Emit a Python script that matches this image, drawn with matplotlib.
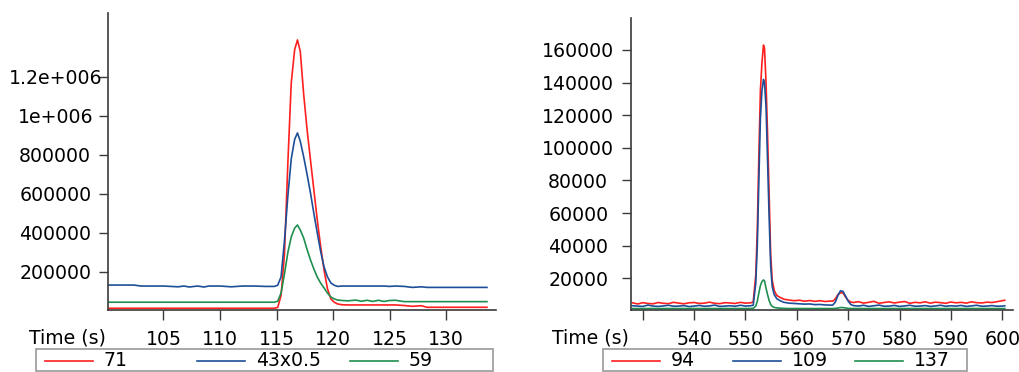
import matplotlib
matplotlib.use("Agg")
import matplotlib.pyplot as plt
from matplotlib.lines import Line2D
from matplotlib.patches import Rectangle

plt.rcParams['font.family'] = ['DejaVu Sans']

# ---------------- data ----------------
# Left panel (time in s)
t_left = [100.1, 101.0, 102.4, 103.0, 104.0, 105.0, 106.3, 106.8, 107.3, 108.0,
          108.6, 109.0, 110.0, 111.0, 112.0, 113.0, 114.0, 114.8, 115.1, 115.4,
          115.7, 116.0, 116.3, 116.6, 116.85, 117.1, 117.4, 117.7, 118.0, 118.3,
          118.6, 118.9, 119.2, 119.5, 119.8, 120.1, 120.4, 120.8, 121.3, 122.0,
          122.5, 123.0, 123.5, 124.0, 124.5, 125.0, 125.5, 126.3, 127.0, 127.8,
          128.3, 129.0, 130.0, 131.0, 132.0, 133.6]
ion_71 = [14000, 14000, 14000, 14000, 14000, 14000, 14000, 14000, 14000, 14000,
          14000, 14000, 14000, 14000, 14000, 14000, 14000, 14000, 18000, 80000,
          290000, 760000, 1170000, 1340000, 1390000, 1330000, 1110000, 930000, 774000, 620000,
          467000, 330000, 210000, 115000, 62000, 45000, 36000, 32000, 31000, 31000,
          31000, 31000, 31000, 31000, 31000, 31000, 31000, 28000, 24000, 27000,
          19000, 19000, 19000, 19000, 19000, 19000]
ion_43 = [133000, 133000, 133000, 128000, 128000, 128000, 124000, 128000, 123000, 128000,
          123000, 128000, 128000, 124000, 128000, 128000, 126000, 126000, 132000, 175000,
          360000, 590000, 780000, 880000, 913000, 870000, 790000, 700000, 605000, 500000,
          400000, 305000, 226000, 175000, 144000, 132000, 126000, 128000, 128000, 128000,
          128000, 128000, 128000, 128000, 128000, 126000, 128000, 126000, 121000, 124000,
          121000, 121000, 121000, 121000, 121000, 121000]
ion_59 = [45000, 45000, 45000, 45000, 45000, 45000, 45000, 45000, 45000, 45000,
          45000, 45000, 45000, 45000, 45000, 45000, 45000, 45000, 50000, 92000,
          190000, 300000, 380000, 425000, 441000, 415000, 374000, 315000, 262000, 215000,
          174000, 143000, 118000, 92000, 72000, 62000, 56000, 54000, 52000, 56000,
          50000, 55000, 49000, 55000, 49000, 54000, 55000, 48000, 48000, 48000,
          48000, 48000, 48000, 48000, 48000, 48000]
left_labels = ["71", "43x0.5", "59"]

# Right panel (time in s)
t_right = [528, 529, 530, 531, 532, 533, 534, 535, 536, 537, 538, 539, 540, 541, 542,
           543, 544, 545, 546, 547, 548, 549, 550, 551, 551.5, 552.0, 552.3, 552.6,
           552.9, 553.2, 553.5, 553.7, 554.0, 554.3, 554.6, 554.9, 555.2, 555.6,
           556.1, 556.8, 557.5, 558.5, 559.5, 560.5, 561.5, 562.5, 563.5, 564.5,
           565.5, 566.5, 567.0, 567.5, 568.0, 568.5, 569.0, 569.5, 570.0, 570.5,
           571, 572, 573, 574, 575, 576, 577, 578, 579, 580, 581, 582, 583, 584,
           585, 586, 587, 588, 589, 590, 591, 592, 593, 594, 595, 596, 597, 598,
           599, 600, 600.5]
ion_94 = [5000, 4300, 5100, 4600, 4400, 5200, 4700, 4500, 5300, 4800, 4400, 5000, 5200,
          4600, 4800, 5400, 4700, 4500, 5100, 4900, 4600, 5300, 4800, 5000, 5500, 22000,
          50000, 95000, 135000, 152000, 163000, 161000, 140000, 108000, 72000, 35000,
          19000, 12500, 9500, 8200, 7200, 6700, 6300, 6600, 6000, 6400, 5900, 6300,
          5800, 6100, 6000, 7500, 10000, 11200, 11000, 8500, 6500, 5500, 5200, 5700,
          4800, 5300, 5900, 4700, 5200, 5600, 4900, 5400, 5800, 4700, 5300, 5000, 5600,
          4800, 5400, 5100, 4700, 5500, 5000, 5300, 4800, 5600, 5100, 4900, 5400, 5200,
          5700, 6300, 6600]
ion_109 = [3200, 3000, 2800, 3600, 3000, 2800, 3100, 3500, 2900, 3000, 3300, 2700, 3000,
           3400, 2900, 3100, 3600, 2800, 3000, 3200, 2900, 3500, 3000, 3200, 3500, 17000,
           40000, 80000, 118000, 135000, 142000, 140000, 125000, 92000, 58000, 28000,
           15000, 10000, 7500, 6200, 5300, 4800, 4600, 4400, 4200, 4300, 3900, 4000,
           3700, 3600, 3600, 5500, 9500, 12400, 12000, 9000, 6000, 4000, 3300, 3000,
           3500, 2800, 3200, 3600, 2900, 3000, 3400, 2800, 3100, 3500, 2900, 3000, 3300,
           2800, 3100, 3500, 2900, 3200, 3000, 3400, 2800, 3100, 3500, 2900, 3000, 3300,
           2900, 3000, 3200]
ion_137 = [1500, 1500, 1500, 1500, 1500, 1500, 1500, 1500, 1500, 1500, 1500, 1500, 1500,
           1500, 1500, 1500, 1500, 1500, 1500, 1500, 1500, 1500, 1500, 1500, 1600, 3000,
           6000, 11000, 15500, 18000, 19000, 18500, 14000, 10000, 6500, 4000,
           2800, 2200, 1900, 1700, 1600, 1500, 1500, 1500, 1500, 1500, 1500, 1500,
           1500, 1500, 1500, 1600, 1800, 2100, 2100, 1800, 1600, 1500, 1500, 1500,
           1500, 1500, 1500, 1500, 1500, 1500, 1500, 1500, 1500, 1500, 1500, 1500, 1500,
           1500, 1500, 1500, 1500, 1500, 1500, 1500, 1500, 1500, 1500, 1500, 1500, 1500,
           1500, 1500, 1500]
right_labels = ["94", "109", "137"]

left_xticks = [105, 110, 115, 120, 125, 130]
left_xticklabels = ["105", "110", "115", "120", "125", "130"]
left_yticks = [200000, 400000, 600000, 800000, 1000000, 1200000]
left_yticklabels = ["200000", "400000", "600000", "800000", "1e+006", "1.2e+006"]
right_xticks = [530, 540, 550, 560, 570, 580, 590, 600]
right_xticklabels = ["", "540", "550", "560", "570", "580", "590", "600"]
right_yticks = [20000, 40000, 60000, 80000, 100000, 120000, 140000, 160000]
right_yticklabels = ["20000", "40000", "60000", "80000", "100000", "120000", "140000", "160000"]

# ---------------- style ----------------
W, H = 1020, 372
FS = 13.6
LW = 1.2
C_RED = "#ff1f1f"
C_BLUE = "#1d4f98"
C_GREEN = "#1f8f4f"
AXC = "#3a3a3a"
COLORS = [C_RED, C_BLUE, C_GREEN]

fig = plt.figure(figsize=(W / 100, H / 100), dpi=100)


def px_rect(x0, y0, x1, y1):
    return [x0 / W, 1 - y1 / H, (x1 - x0) / W, (y1 - y0) / H]


def style_axes(ax):
    for s in ("top", "right"):
        ax.spines[s].set_visible(False)
    for s in ("left", "bottom"):
        ax.spines[s].set_color(AXC)
        ax.spines[s].set_linewidth(1.2)
    ax.tick_params(axis="x", direction="out", length=7.5, width=1.0, color=AXC,
                   labelsize=FS, pad=7)
    ax.tick_params(axis="y", direction="out", length=6.5, width=1.0, color=AXC,
                   labelsize=FS, pad=31.5)
    for lab in ax.get_yticklabels():
        lab.set_horizontalalignment("center")


ax1 = fig.add_axes(px_rect(108, 13, 496, 310))
for ys, c, lab in zip([ion_71, ion_43, ion_59], COLORS, left_labels):
    ax1.plot(t_left, ys, color=c, lw=LW, label=lab)
ax1.set_xlim(100.1, 134.4)
ax1.set_ylim(5100, 1528000)
ax1.set_xticks(left_xticks)
ax1.set_xticklabels(left_xticklabels)
ax1.set_yticks(left_yticks)
ax1.set_yticklabels(left_yticklabels)
style_axes(ax1)

ax2 = fig.add_axes(px_rect(631, 18, 1013, 310))
for ys, c, lab in zip([ion_94, ion_109, ion_137], COLORS, right_labels):
    ax2.plot(t_right, ys, color=c, lw=LW, label=lab)
ax2.set_xlim(527.7, 602.1)
ax2.set_ylim(600, 179600)
ax2.set_xticks(right_xticks)
ax2.set_xticklabels(right_xticklabels)
ax2.set_yticks(right_yticks)
ax2.set_yticklabels(right_yticklabels)
style_axes(ax2)

fig.text(106 / W, 1 - 338 / H, "Time (s)", ha="right", va="center", fontsize=FS)
fig.text(629 / W, 1 - 338 / H, "Time (s)", ha="right", va="center", fontsize=FS)


def add_legend(ax, x0, x1, y0, y1):
    """Legend box with three equal-width columns, built from the axes' lines."""
    handles, labels = ax.get_legend_handles_labels()
    fig.patches.append(Rectangle((x0 / W, 1 - y1 / H), (x1 - x0) / W, (y1 - y0) / H,
                                 transform=fig.transFigure, facecolor="white",
                                 edgecolor="#a0a0a0", linewidth=1.3))
    col = (x1 - x0) / len(handles)
    yc = 1 - ((y0 + y1) / 2 + 0.5) / H
    for i, (h, lab) in enumerate(zip(handles, labels)):
        hx0 = x0 + 9 + i * col
        hx1 = hx0 + 48
        fig.lines.append(Line2D([hx0 / W, hx1 / W], [yc, yc], transform=fig.transFigure,
                                color=h.get_color(), lw=LW))
        fig.text((hx1 + 11) / W, yc, lab, ha="left", va="center", fontsize=FS)


add_legend(ax1, 36, 493, 349, 371)
add_legend(ax2, 603, 967, 349, 371)

fig.savefig("out.png", dpi=100)
